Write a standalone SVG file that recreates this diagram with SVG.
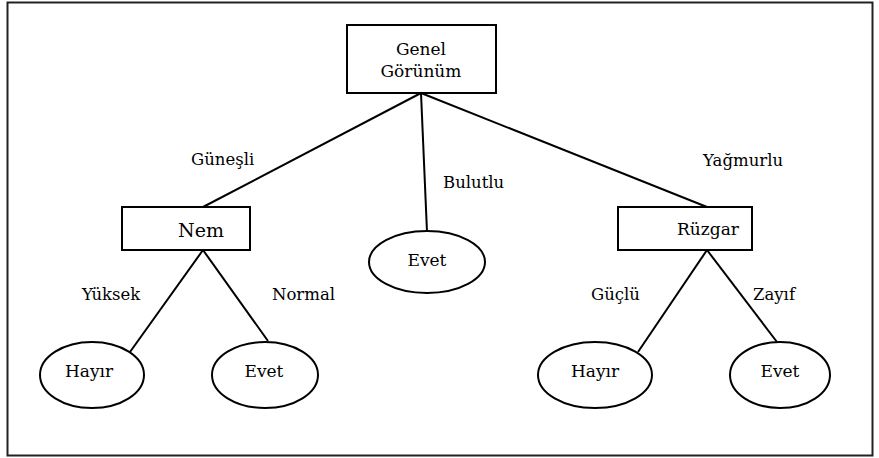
<svg xmlns="http://www.w3.org/2000/svg" width="879" height="458" viewBox="0 0 879 458">
<style>
.box{fill:#fff;stroke:#000;stroke-width:2}
.ell{fill:#fff;stroke:#000;stroke-width:2}
.edge{stroke:#000;stroke-width:2;fill:none}
text{fill:#000;font-family:"DejaVu Serif",serif}
.n{font-size:17px;text-anchor:middle}
.lbl{font-size:16.5px}
</style>
<rect x="7.5" y="2.5" width="865" height="453" fill="#fff" stroke="#222" stroke-width="2"/>
<g id="connectors">
<line class="edge" x1="421" y1="93" x2="203" y2="207"/>
<line class="edge" x1="421" y1="93" x2="427" y2="232"/>
<line class="edge" x1="421" y1="93" x2="707" y2="207"/>
<line class="edge" x1="203" y1="250" x2="130" y2="352"/>
<line class="edge" x1="203" y1="250" x2="268" y2="341"/>
<line class="edge" x1="707" y1="250" x2="638" y2="352"/>
<line class="edge" x1="707" y1="250" x2="777" y2="342"/>
<text class="lbl" x="191" y="165">Güneşli</text>
<text class="lbl" x="443" y="188">Bulutlu</text>
<text class="lbl" x="703" y="166">Yağmurlu</text>
<text class="lbl" x="82" y="300">Yüksek</text>
<text class="lbl" x="272" y="300">Normal</text>
<text class="lbl" x="591" y="300">Güçlü</text>
<text class="lbl" x="753" y="300">Zayıf</text>
</g>
<g id="genel">
<rect class="box" x="347" y="25" width="149" height="68"/>
<text class="n" x="421" y="55">Genel</text>
<text class="n" x="421" y="77">Görünüm</text>
</g>
<g id="nem">
<rect class="box" x="122" y="207" width="128" height="43"/>
<text class="n" x="201" y="237" style="font-size:19px">Nem</text>
</g>
<g id="ruzgar">
<rect class="box" x="618" y="207" width="134" height="43"/>
<text class="n" x="708" y="235">Rüzgar</text>
</g>
<g id="evet-mid">
<ellipse class="ell" cx="427" cy="262" rx="58" ry="31"/>
<text class="n" x="427" y="266">Evet</text>
</g>
<g id="hayir-left">
<ellipse class="ell" cx="92" cy="375" rx="52" ry="33"/>
<text class="n" x="89" y="377">Hayır</text>
</g>
<g id="evet-left">
<ellipse class="ell" cx="265" cy="375" rx="53" ry="33"/>
<text class="n" x="264" y="377">Evet</text>
</g>
<g id="hayir-right">
<ellipse class="ell" cx="595" cy="375" rx="57" ry="33"/>
<text class="n" x="595" y="377">Hayır</text>
</g>
<g id="evet-right">
<ellipse class="ell" cx="780" cy="375" rx="50" ry="33"/>
<text class="n" x="780" y="377">Evet</text>
</g>
</svg>
